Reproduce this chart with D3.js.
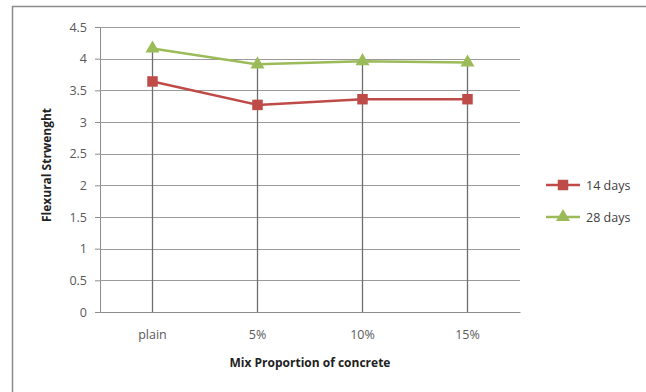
<!DOCTYPE html>
<html><head><meta charset="utf-8">
<script src="https://cdn.jsdelivr.net/npm/d3@7"></script>
<style>body{margin:0;background:#fff}svg{display:block}</style>
</head><body><svg id="c" width="646" height="392"></svg>
<script>
const categories = ["plain", "5%", "10%", "15%"];
const days14 = [3.64, 3.27, 3.36, 3.36];
const days28 = [4.16, 3.91, 3.96, 3.94];
const yTicks = [0, 0.5, 1, 1.5, 2, 2.5, 3, 3.5, 4, 4.5];
const seriesNames = ["14 days", "28 days"];

const svg = d3.select("#c");
const font = "'Open Sans', 'DejaVu Sans', sans-serif";
svg.append("rect").attr("x", 12.5).attr("y", 6.5).attr("width", 640).attr("height", 400)
  .attr("fill", "#fff").attr("stroke", "#8c8c8c").attr("stroke-width", 1.5);

const m = {l: 100, r: 520, t: 27, b: 312};
const x = d3.scaleBand().domain(categories).range([m.l, m.r]);
const y = d3.scaleLinear().domain([0, 4.5]).range([m.b, m.t]);

// y axis + horizontal grid
const yAxis = d3.axisLeft(y).tickValues(yTicks).tickSize(5).tickPadding(8).tickFormat(d => d);
const ga = svg.append("g").attr("transform", `translate(${m.l},0)`).call(yAxis);
ga.select(".domain").attr("stroke", "#8c8c8c");
ga.selectAll(".tick line").attr("stroke", "#8c8c8c");
ga.selectAll(".tick text").attr("fill", "#595959").style("font", `12.5px ${font}`);
svg.append("g").selectAll("line").data(yTicks.filter(d => d > 0)).join("line")
  .attr("x1", m.l).attr("x2", m.r).attr("y1", d => Math.round(y(d)) + 0.5).attr("y2", d => Math.round(y(d)) + 0.5)
  .attr("stroke", "#9a9a9a").attr("stroke-width", 1);

// x axis
const xAxis = d3.axisBottom(x).tickSize(0).tickPadding(18);
const gx = svg.append("g").attr("transform", `translate(0,${m.b})`).call(xAxis);
gx.select(".domain").attr("stroke", "#8c8c8c");
gx.selectAll(".tick text").attr("fill", "#595959").style("font", `12.5px ${font}`);

const cx = d => x(d) + x.bandwidth() / 2;
// vertical drop lines
svg.append("g").selectAll("line").data(categories).join("line")
  .attr("x1", cx).attr("x2", cx)
  .attr("y1", (d, i) => y(Math.max(days14[i], days28[i])))
  .attr("y2", m.b).attr("stroke", "#6e6e6e").attr("stroke-width", 1.3);

const line = d3.line().x(d => cx(d.c)).y(d => y(d.v));
const series = [
  {name: seriesNames[0], vals: days14, color: "#be4b48", marker: "square"},
  {name: seriesNames[1], vals: days28, color: "#9bbb59", marker: "triangle"}
];
const sym = {square: d3.symbol().type(d3.symbolSquare).size(110), triangle: d3.symbol().type(d3.symbolTriangle).size(85)};
series.forEach(s => {
  const pts = categories.map((c, i) => ({c, v: s.vals[i]}));
  svg.append("path").datum(pts).attr("d", line).attr("fill", "none").attr("stroke", s.color).attr("stroke-width", 2.5);
  svg.append("g").selectAll("path").data(pts).join("path")
    .attr("transform", d => `translate(${cx(d.c)},${y(d.v)})`).attr("d", sym[s.marker]).attr("fill", s.color);
});

// titles
svg.append("text").attr("x", 310).attr("y", 367).attr("text-anchor", "middle")
  .style("font", `bold 12px ${font}`).attr("fill", "#222").text("Mix Proportion  of concrete");
svg.append("text").attr("transform", "translate(51,165) rotate(-90)").attr("text-anchor", "middle")
  .style("font", `bold 12px ${font}`).attr("fill", "#222").text("Flexural Strwenght");

// legend
series.forEach((s, i) => {
  const ly = 185 + i * 32;
  svg.append("line").attr("x1", 546).attr("x2", 580).attr("y1", ly).attr("y2", ly).attr("stroke", s.color).attr("stroke-width", 2.5);
  svg.append("path").attr("transform", `translate(563,${ly})`).attr("d", sym[s.marker]).attr("fill", s.color);
  svg.append("text").attr("x", 586).attr("y", ly + 4.5).style("font", `12.5px ${font}`).attr("fill", "#404040").text(s.name);
});
</script></body></html>
